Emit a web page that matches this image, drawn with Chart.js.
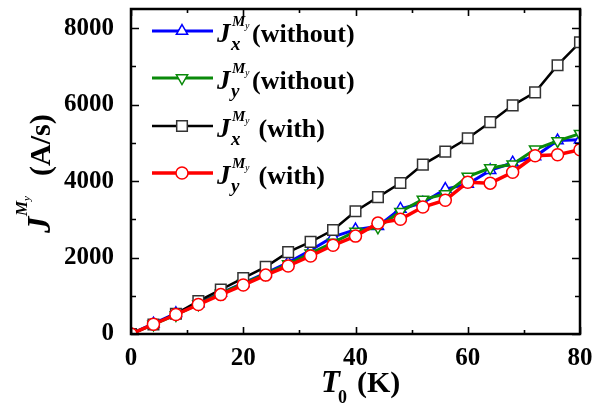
<!DOCTYPE html>
<html>
<head>
<meta charset="utf-8">
<script src="https://cdn.jsdelivr.net/npm/chart.js@4/dist/chart.umd.min.js"></script>
<style>
  html, body { margin: 0; padding: 0; background: #fff; }
  #wrap { width: 602px; height: 409px; }
</style>
</head>
<body>
<div id="wrap"><canvas id="c" width="602" height="409"></canvas></div>
<script>
// Temperature T0 (K)
const temperatures = [0, 4, 8, 12, 16, 20, 24, 28, 32, 36, 40, 44, 48, 52, 56, 60, 64, 68, 72, 76, 80];

// Magnon current components (A/s)
const jxWithout = [0, 270, 540, 800, 1070, 1330, 1590, 1870, 2190, 2540, 2730, 2820, 3270, 3430, 3790, 3920, 4280, 4480, 4640, 5060, 5080];
const jyWithout = [0, 250, 500, 780, 1060, 1320, 1570, 1830, 2110, 2390, 2680, 2790, 3200, 3520, 3660, 4120, 4340, 4440, 4830, 5050, 5240];
const jxWith    = [0, 250, 530, 860, 1160, 1460, 1755, 2140, 2410, 2720, 3210, 3580, 3950, 4430, 4770, 5120, 5540, 5980, 6320, 7030, 7630];
const jyWith    = [0, 255, 510, 770, 1030, 1280, 1540, 1780, 2040, 2320, 2560, 2900, 3000, 3320, 3500, 3970, 3945, 4230, 4660, 4690, 4820];

// Axis ranges and tick spacing
const xRange = [0, 80];
const yRange = [0, 8500];
const xMajorStep = 20, xMinorStep = 10;
const yMajorStep = 2000, yMinorStep = 1000;
const yTickValues = [0, 2000, 4000, 6000, 8000];

// Legend entries: [subscript letter, suffix]
const legendLabels = [
  ['x', '(without)'],
  ['y', '(without)'],
  ['x', ' (with)'],
  ['y', ' (with)']
];

const SERIF = '"Liberation Serif", "Times New Roman", serif';

function toPoints(ys) {
  return temperatures.map((t, i) => ({ x: t, y: ys[i] }));
}

const datasets = [
  { data: toPoints(jxWithout), borderColor: '#0000ff', pointBorderColor: '#0000ff', borderWidth: 3,
    pointStyle: 'triangle', pointRadius: 6.5, pointRotation: 0, order: 3 },
  { data: toPoints(jyWithout), borderColor: '#0a8a0a', pointBorderColor: '#0a8a0a', borderWidth: 3,
    pointStyle: 'triangle', pointRadius: 6.5, pointRotation: 180, order: 2 },
  { data: toPoints(jxWith), borderColor: '#000000', pointBorderColor: '#333333', borderWidth: 2.5,
    pointStyle: 'rect', pointRadius: 7.5, pointRotation: 0, order: 1 },
  { data: toPoints(jyWith), borderColor: '#ff0000', pointBorderColor: '#ff0000', borderWidth: 3.5,
    pointStyle: 'circle', pointRadius: 6, pointRotation: 0, order: 0 }
].map(d => Object.assign({
  pointBackgroundColor: '#ffffff',
  pointBorderWidth: 1.5,
  pointHoverRadius: d.pointRadius,
  tension: 0,
  fill: false
}, d));

// Frame with inward ticks on all four sides
const frameTicks = {
  id: 'frameTicks',
  afterDatasetsDraw(chart) {
    const { ctx, chartArea: a, scales: { x, y } } = chart;
    ctx.save();
    ctx.strokeStyle = '#000';
    ctx.lineWidth = 1.6;
    ctx.beginPath();
    for (let v = xRange[0]; v <= xRange[1]; v += xMinorStep) {
      const px = Math.round(x.getPixelForValue(v)) + 0.5;
      const len = v % xMajorStep === 0 ? 7 : 4;
      ctx.moveTo(px, a.bottom); ctx.lineTo(px, a.bottom - len);
      ctx.moveTo(px, a.top); ctx.lineTo(px, a.top + len);
    }
    for (let v = yRange[0]; v <= yRange[1]; v += yMinorStep) {
      const py = Math.round(y.getPixelForValue(v)) + 0.5;
      const len = v % yMajorStep === 0 ? 8 : 5;
      ctx.moveTo(a.left, py); ctx.lineTo(a.left + len, py);
      ctx.moveTo(a.right, py); ctx.lineTo(a.right - len, py);
    }
    ctx.stroke();
    ctx.lineWidth = 2.5;
    ctx.strokeRect(a.left, a.top, a.right - a.left, a.bottom - a.top);
    ctx.restore();
  }
};

// Axis titles and legend with sub/superscripts
const richText = {
  id: 'richText',
  afterDraw(chart) {
    const { ctx } = chart;
    ctx.save();
    ctx.fillStyle = '#000';
    ctx.textBaseline = 'alphabetic';
    ctx.textAlign = 'left';

    // x-axis title: T0 (K)
    ctx.font = 'italic bold 31px ' + SERIF;
    ctx.fillText('T', 321, 392);
    ctx.font = 'bold 18px ' + SERIF;
    ctx.fillText('0', 338, 403);
    ctx.font = 'bold 30px ' + SERIF;
    ctx.fillText('(K)', 357, 392);

    // y-axis title: J^{M_y} (A/s), rotated
    ctx.save();
    ctx.translate(50, 233);
    ctx.rotate(-Math.PI / 2);
    ctx.font = 'italic bold 33px ' + SERIF;
    ctx.fillText('J', 0, 0);
    ctx.font = 'italic bold 17px ' + SERIF;
    ctx.fillText('M', 17, -23);
    ctx.font = 'italic 11px ' + SERIF;
    ctx.fillText('y', 32, -20);
    ctx.font = 'bold 30px ' + SERIF;
    ctx.fillText('(A/s)', 57, 0);
    ctx.restore();

    // legend
    const rows = [31, 78, 126, 173];
    chart.data.datasets.forEach((ds, i) => {
      const ry = rows[i];
      ctx.save();
      ctx.strokeStyle = ds.borderColor;
      ctx.lineWidth = ds.borderWidth;
      ctx.beginPath();
      ctx.moveTo(152, ry); ctx.lineTo(213, ry);
      ctx.stroke();
      ctx.fillStyle = ds.pointBackgroundColor;
      ctx.strokeStyle = ds.pointBorderColor;
      ctx.lineWidth = ds.pointBorderWidth;
      Chart.helpers.drawPoint(ctx, {
        pointStyle: ds.pointStyle, radius: ds.pointRadius,
        rotation: ds.pointRotation, borderWidth: ds.pointBorderWidth
      }, 182, ry);
      ctx.restore();

      const [sub, suffix] = legendLabels[i];
      ctx.font = 'italic bold 27px ' + SERIF;
      ctx.fillText('J', 217, ry + 11);
      ctx.font = 'italic bold 15px ' + SERIF;
      ctx.fillText('M', 232, ry - 5);
      ctx.font = 'italic 10px ' + SERIF;
      ctx.fillText('y', 245, ry - 2);
      ctx.font = 'italic bold 19px ' + SERIF;
      ctx.fillText(sub, 231, ry + 19);
      ctx.font = 'bold 26px ' + SERIF;
      ctx.fillText(suffix, 252, ry + 11);
    });
    ctx.restore();
  }
};

new Chart(document.getElementById('c'), {
  type: 'line',
  data: { datasets },
  options: {
    responsive: false,
    animation: false,
    devicePixelRatio: 1,
    layout: { padding: { left: 0, right: 22, top: 5, bottom: 0 } },
    plugins: { legend: { display: false }, tooltip: { enabled: false } },
    scales: {
      x: {
        type: 'linear',
        min: xRange[0], max: xRange[1],
        grid: { display: false },
        border: { display: false },
        ticks: {
          stepSize: xMajorStep,
          autoSkip: false,
          color: '#000',
          padding: 2,
          maxRotation: 0,
          font: { family: SERIF, size: 25, weight: 'bold' }
        },
        afterFit(scale) {
          scale.height = 75;
          scale.paddingLeft = 0;
          scale.paddingRight = 0;
        }
      },
      y: {
        type: 'linear',
        min: yRange[0], max: yRange[1],
        grid: { display: false },
        border: { display: false },
        afterBuildTicks(scale) {
          scale.ticks = yTickValues.map(v => ({ value: v }));
        },
        ticks: {
          autoSkip: false,
          color: '#000',
          padding: 9,
          callback: v => String(v),
          font: { family: SERIF, size: 25, weight: 'bold' }
        },
        afterFit(scale) {
          scale.width = 131;
          scale.paddingTop = 0;
          scale.paddingBottom = 0;
        }
      }
    }
  },
  plugins: [frameTicks, richText]
});
</script>
</body>
</html>
